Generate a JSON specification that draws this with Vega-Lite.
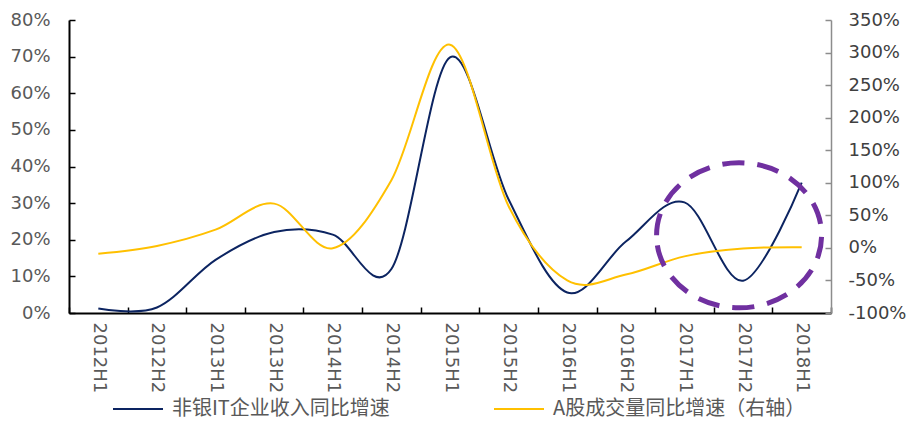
{
  "$schema": "https://vega.github.io/schema/vega-lite/v6.json",
  "width": 762,
  "height": 293,
  "autosize": {"type": "none"},
  "padding": {"left": 69, "top": 20, "right": 75, "bottom": 108},
  "background": "white",
  "config": {
    "view": {"stroke": null},
    "font": "DejaVu Sans",
    "axis": {"grid": false, "labelFont": "DejaVu Sans", "labelFontSize": 18, "labelColor": "#595959", "title": null, "labelOverlap": false, "labelBound": false}
  },
  "datasets": {
    "it": [
      {"period": "2012H1", "series": "非银IT企业收入同比增速", "value": 1.2},
      {"period": "2012H2", "series": "非银IT企业收入同比增速", "value": 1.5},
      {"period": "2013H1", "series": "非银IT企业收入同比增速", "value": 14.5},
      {"period": "2013H2", "series": "非银IT企业收入同比增速", "value": 22.1},
      {"period": "2014H1", "series": "非银IT企业收入同比增速", "value": 21.4},
      {"period": "2014H2", "series": "非银IT企业收入同比增速", "value": 12},
      {"period": "2015H1", "series": "非银IT企业收入同比增速", "value": 69.8},
      {"period": "2015H2", "series": "非银IT企业收入同比增速", "value": 31},
      {"period": "2016H1", "series": "非银IT企业收入同比增速", "value": 5.6},
      {"period": "2016H2", "series": "非银IT企业收入同比增速", "value": 19.5},
      {"period": "2017H1", "series": "非银IT企业收入同比增速", "value": 30.2},
      {"period": "2017H2", "series": "非银IT企业收入同比增速", "value": 8.8},
      {"period": "2018H1", "series": "非银IT企业收入同比增速", "value": 35.6}
    ],
    "ashare": [
      {"period": "2012H1", "series": "A股成交量同比增速（右轴）", "value": -9},
      {"period": "2012H2", "series": "A股成交量同比增速（右轴）", "value": 3},
      {"period": "2013H1", "series": "A股成交量同比增速（右轴）", "value": 28},
      {"period": "2013H2", "series": "A股成交量同比增速（右轴）", "value": 68},
      {"period": "2014H1", "series": "A股成交量同比增速（右轴）", "value": -0.5},
      {"period": "2014H2", "series": "A股成交量同比增速（右轴）", "value": 104},
      {"period": "2015H1", "series": "A股成交量同比增速（右轴）", "value": 312},
      {"period": "2015H2", "series": "A股成交量同比增速（右轴）", "value": 64},
      {"period": "2016H1", "series": "A股成交量同比增速（右轴）", "value": -50},
      {"period": "2016H2", "series": "A股成交量同比增速（右轴）", "value": -41},
      {"period": "2017H1", "series": "A股成交量同比增速（右轴）", "value": -13},
      {"period": "2017H2", "series": "A股成交量同比增速（右轴）", "value": -1},
      {"period": "2018H1", "series": "A股成交量同比增速（右轴）", "value": 1}
    ],
    "highlight": [
      {"period": "2017H2", "value": 19.3}
    ]
  },
  "encoding": {
    "x": {
      "field": "period",
      "type": "ordinal",
      "scale": {"type": "band", "paddingInner": 0, "paddingOuter": 0},
      "axis": {
        "labelAngle": 90,
        "tickBand": "extent",
        "domainColor": "#000000",
        "domainWidth": 2,
        "tickColor": "#000000",
        "tickWidth": 1.5,
        "tickSize": -6,
        "labelPadding": 15
      }
    }
  },
  "layer": [
    {
      "data": {"name": "it"},
      "mark": {"type": "line", "interpolate": "cardinal", "strokeWidth": 2},
      "encoding": {
        "y": {
          "field": "value",
          "type": "quantitative",
          "scale": {"domain": [0, 80], "nice": false},
          "axis": {
            "orient": "left",
            "values": [0, 10, 20, 30, 40, 50, 60, 70, 80],
            "labelExpr": "datum.value + '%'",
            "labelOverlap": false,
            "domainColor": "#000000",
            "domainWidth": 2,
            "tickColor": "#000000",
            "tickWidth": 1.5,
            "tickSize": -6,
            "labelPadding": 25
          }
        },
        "color": {
          "field": "series",
          "type": "nominal",
          "scale": {"domain": ["非银IT企业收入同比增速", "A股成交量同比增速（右轴）"], "range": ["#0C2461", "#FFC000"]},
          "legend": {
            "title": null,
            "orient": "none",
            "direction": "horizontal",
            "legendX": 43,
            "legendY": 363,
            "padding": 0,
            "symbolType": "stroke",
            "symbolSize": 2500,
            "symbolStrokeWidth": 2,
            "labelFont": "Noto Sans CJK SC",
            "labelFontSize": 20,
            "labelColor": "#595959",
            "labelOffset": 8,
            "labelLimit": 400,
            "columnPadding": 100
          }
        }
      }
    },
    {
      "encoding": {
        "y": {
          "field": "value",
          "type": "quantitative",
          "scale": {"domain": [-100, 350], "nice": false},
          "axis": {
            "orient": "right",
            "values": [-100, -50, 0, 50, 100, 150, 200, 250, 300, 350],
            "labelExpr": "datum.value + '%'",
            "labelOverlap": false,
            "labelColor": "#404040",
            "domainColor": "#8c8c8c",
            "domainWidth": 1.5,
            "tickColor": "#8c8c8c",
            "tickWidth": 1.5,
            "tickSize": -6,
            "labelPadding": 23
          }
        }
      },
      "layer": [
        {
          "data": {"name": "ashare"},
          "mark": {"type": "line", "interpolate": "cardinal", "strokeWidth": 2},
          "encoding": {
            "color": {"field": "series", "type": "nominal"}
          }
        },
        {
          "data": {"name": "highlight"},
          "mark": {
            "type": "point",
            "shape": "M -1 0 A 1 0.879 0 1 1 1 0 A 1 0.879 0 1 1 -1 0 Z",
            "size": 27225,
            "filled": false,
            "stroke": "#7030A0",
            "strokeWidth": 5,
            "strokeDash": [22, 13],
            "opacity": 1,
            "xOffset": -4
          }
        }
      ]
    }
  ],
  "resolve": {"scale": {"y": "independent"}}
}
